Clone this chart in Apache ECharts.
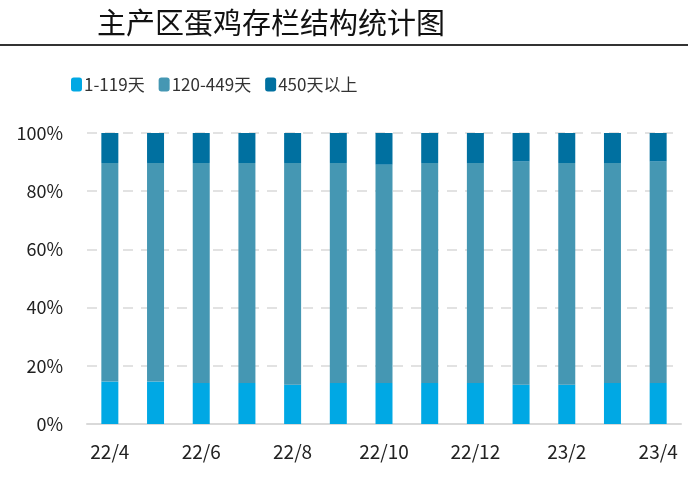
<!DOCTYPE html>
<html>
<head>
<meta charset="utf-8">
<script src="https://cdn.jsdelivr.net/npm/echarts@6/dist/echarts.min.js"></script>
<style>
  html, body { margin: 0; padding: 0; background: #fff; }
  #chart { width: 688px; height: 487px; }
</style>
</head>
<body>
<div id="chart"></div>
<script>
  // 月份
  const months = ['22/4', '22/5', '22/6', '22/7', '22/8', '22/9', '22/10', '22/11', '22/12', '23/1', '23/2', '23/3', '23/4']
  // 各日龄段占比(%)
  const young = [14.6, 14.6, 14.1, 14.1, 13.5, 14.1, 14.1, 14.1, 14.1, 13.5, 13.5, 14.1, 14.1]
  const old = [10.3, 10.3, 10.3, 10.3, 10.3, 10.3, 10.9, 10.3, 10.3, 9.8, 10.3, 10.3, 9.8]
  const middle = young.map((v, i) => +(100 - v - old[i]).toFixed(1))
  const yTicks = [0, 20, 40, 60, 80, 100]

  const chart = echarts.init(document.getElementById('chart'))
  const fontFam = '"Noto Sans CJK SC", "Noto Sans", sans-serif'

  chart.setOption({
    animation: false,
    textStyle: { fontFamily: fontFam },
    title: {
      text: '主产区蛋鸡存栏结构统计图',
      left: 92,
      top: 3,
      textStyle: { fontSize: 29, fontWeight: 'normal', color: '#111', fontFamily: fontFam }
    },
    graphic: [{
      type: 'line',
      shape: { x1: 0, y1: 45, x2: 688, y2: 45 },
      style: { stroke: '#333', lineWidth: 2 }
    }],
    legend: {
      left: 66,
      top: 71,
      itemWidth: 11,
      itemHeight: 14,
      itemGap: 14,
      textStyle: { fontSize: 17, color: '#333', padding: [0, 0, 0, -3] },
      data: ['1-119天', '120-449天', '450天以上']
    },
    grid: { left: 87, right: 7, top: 133, bottom: 63 },
    xAxis: {
      type: 'category',
      data: months,
      axisLine: { lineStyle: { color: '#d9d9d9', width: 2 } },
      axisTick: { show: false },
      axisLabel: { interval: 1, fontSize: 19, color: '#222', margin: 18 }
    },
    yAxis: {
      type: 'value',
      min: 0,
      max: 100,
      interval: 20,
      axisLine: { show: false },
      axisTick: { show: false },
      axisLabel: {
        fontSize: 18,
        color: '#222',
        margin: 24,
        formatter: v => yTicks.includes(v) ? v + '%' : ''
      },
      splitLine: { lineStyle: { color: '#d9d9d9', width: 1.5, type: [10, 8] } }
    },
    series: [
      {
        name: '1-119天', type: 'bar', stack: 'all', barWidth: 17,
        itemStyle: { color: '#00a8e4' }, data: young
      },
      {
        name: '120-449天', type: 'bar', stack: 'all', barWidth: 17,
        itemStyle: { color: '#4597b3' }, data: middle
      },
      {
        name: '450天以上', type: 'bar', stack: 'all', barWidth: 17,
        itemStyle: { color: '#0070a0' }, data: old
      }
    ]
  })
</script>
</body>
</html>
